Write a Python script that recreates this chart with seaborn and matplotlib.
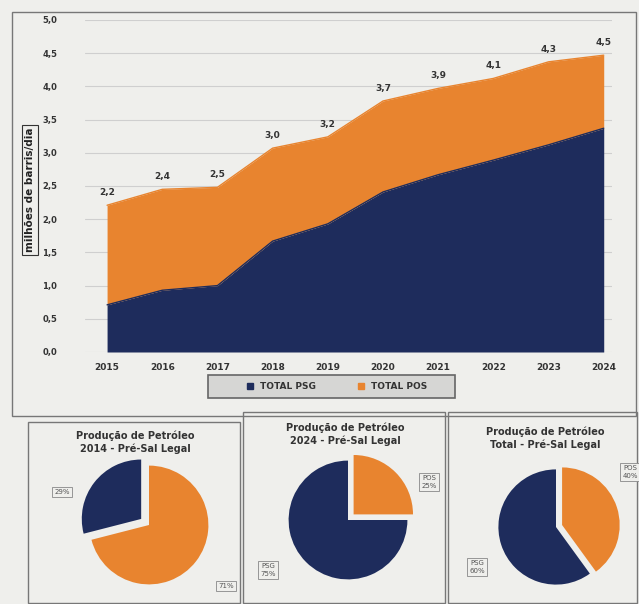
import numpy as np
import pandas as pd
import matplotlib
matplotlib.use("Agg")
import matplotlib.pyplot as plt
from matplotlib.patches import Rectangle
from matplotlib.lines import Line2D
import seaborn as sns

years = ["2015", "2016", "2017", "2018", "2019", "2020", "2021", "2022", "2023", "2024"]
total_psg = [0.71, 0.93, 1.00, 1.67, 1.93, 2.41, 2.67, 2.89, 3.12, 3.37]
total_pos = [1.50, 1.52, 1.48, 1.40, 1.31, 1.37, 1.30, 1.23, 1.25, 1.10]
total_labels = ["2,2", "2,4", "2,5", "3,0", "3,2", "3,7", "3,9", "4,1", "4,3", "4,5"]
yticks = [0.0, 0.5, 1.0, 1.5, 2.0, 2.5, 3.0, 3.5, 4.0, 4.5, 5.0]
ytick_labels = ["0,0", "0,5", "1,0", "1,5", "2,0", "2,5", "3,0", "3,5", "4,0", "4,5", "5,0"]

pie_titles = ["Produção de Petróleo\n2014 - Pré-Sal Legal",
              "Produção de Petróleo\n2024 - Pré-Sal Legal",
              "Produção de Petróleo\nTotal - Pré-Sal Legal"]
pie_psg = [29, 75, 60]
pie_pos = [71, 25, 40]
pie_psg_labels = ["29%", "PSG\n75%", "PSG\n60%"]
pie_pos_labels = ["71%", "POS\n25%", "POS\n40%"]

NAVY = "#1e2c5c"
ORANGE = "#e8842f"
BG = "#efefec"

sns.set_theme(style="whitegrid")
plt.rcParams["font.family"] = ["DejaVu Sans"]

W, H = 639, 604
fig = plt.figure(figsize=(W / 100, H / 100), dpi=100)
fig.patch.set_facecolor(BG)

def fx(px):
    return px / W

def fy(py):
    return 1 - py / H

def frame(x0, y0, x1, y1, lw=1.0, fc="none", ec="#777777", z=0):
    fig.patches.append(Rectangle((fx(x0), fy(y1)), fx(x1) - fx(x0), fy(y0) - fy(y1),
                                 transform=fig.transFigure, fill=(fc != "none"),
                                 facecolor=fc if fc != "none" else "white",
                                 edgecolor=ec, linewidth=lw, zorder=z))

frame(12, 12, 636, 416)
frame(28, 422, 240, 603)
frame(243, 412, 445, 603)
frame(448, 412, 637, 603)
frame(208, 375, 455, 398, fc="#d6d6d4", ec="#666666", lw=1.2)

# main area chart
ax = fig.add_axes([fx(85), fy(352), fx(612) - fx(85), fy(20) - fy(352)])
ax.set_facecolor(BG)
df = pd.DataFrame({"x": np.arange(len(years)), "psg": total_psg,
                   "total": np.array(total_psg) + np.array(total_pos)})
ax.fill_between(df["x"], 0, df["psg"], color=NAVY, linewidth=0, zorder=2)
ax.fill_between(df["x"], df["psg"], df["total"], color=ORANGE, linewidth=0, zorder=2)
sns.lineplot(data=df, x="x", y="psg", ax=ax, color=NAVY, linewidth=1, zorder=3)
sns.lineplot(data=df, x="x", y="total", ax=ax, color=ORANGE, linewidth=1, zorder=3)
ax.set_xlim(-0.4, 9.15)
ax.set_ylim(0, 5.0)
ax.set_yticks(yticks)
ax.set_yticklabels(ytick_labels, fontsize=6, fontweight="bold", color="#333333")
ax.set_xticks(df["x"])
ax.set_xticklabels(years, fontsize=6.5, fontweight="bold", color="#333333")
ax.tick_params(axis="x", pad=2)
ax.tick_params(axis="y", pad=14)
ax.grid(axis="y", color="#cfcfcf", linewidth=0.8)
ax.grid(axis="x", visible=False)
for s in ax.spines.values():
    s.set_visible(False)
ax.set_xlabel("")
ax.set_ylabel("")
for xi, tv, lab in zip(df["x"], df["total"], total_labels):
    ax.text(xi, tv + 0.12, lab, ha="center", va="bottom", fontsize=6.5,
            fontweight="bold", color="#333333")

fig.text(fx(30), fy(190), "milhões de barris/dia", rotation=90, ha="center", va="center",
         fontsize=7.5, fontweight="bold", color="#222222",
         bbox=dict(boxstyle="square,pad=0.25", fc=BG, ec="#333333", lw=0.8))

# legend
handles = [Line2D([], [], marker="s", linestyle="", color=NAVY, markersize=4),
           Line2D([], [], marker="s", linestyle="", color=ORANGE, markersize=4)]
leg = fig.legend(handles, ["TOTAL PSG", "TOTAL POS"], loc="center",
                 bbox_to_anchor=(fx(334), fy(386.5)), ncol=2, frameon=False,
                 fontsize=6.5, handletextpad=0.1, columnspacing=4.0)
for t in leg.get_texts():
    t.set_fontweight("bold")
    t.set_color("#333333")

# pies
centers = [(149, 525), (348, 520), (556, 527)]
radii = [66, 66, 64]
title_pos = [(135, 442), (345, 434), (545, 438)]
explodes = [(0.15, 0.0), (0.0, 0.12), (0.0, 0.1)]
psg_lab_pos = [(62, 492), (268, 570), (477, 567)]
pos_lab_pos = [(226, 586), (429, 482), (630, 472)]
for i in range(3):
    cx, cy = centers[i]
    r = radii[i]
    pax = fig.add_axes([fx(cx - r), fy(cy + r), fx(2 * r), (2 * r) / H])
    pax.pie([pie_psg[i], pie_pos[i]], colors=[NAVY, ORANGE], startangle=90,
            counterclock=True, explode=explodes[i], radius=0.9,
            wedgeprops=dict(linewidth=0))
    pax.set_aspect("equal")
    pax.set_xlim(-1.0, 1.0)
    pax.set_ylim(-1.0, 1.0)
    pax.axis("off")
    tx, ty = title_pos[i]
    fig.text(fx(tx), fy(ty), pie_titles[i], ha="center", va="center", fontsize=7,
             fontweight="bold", color="#333333", linespacing=1.3)
    for (lx, ly), lab in ((psg_lab_pos[i], pie_psg_labels[i]), (pos_lab_pos[i], pie_pos_labels[i])):
        fig.text(fx(lx), fy(ly), lab, ha="center", va="center", fontsize=5,
                 color="#555555", linespacing=1.4,
                 bbox=dict(boxstyle="square,pad=0.3", fc=BG, ec="#888888", lw=0.6))

fig.savefig("out.png", dpi=100, facecolor=BG)
